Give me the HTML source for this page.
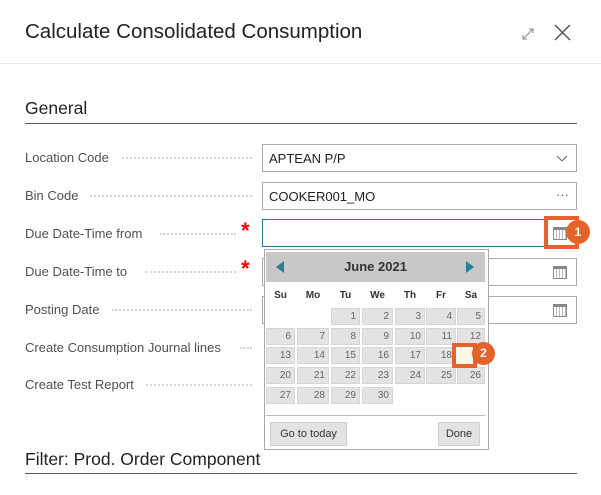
<!DOCTYPE html>
<html><head><meta charset="utf-8"><style>
*{box-sizing:border-box;margin:0;padding:0}
body{width:601px;height:495px;background:#fff;position:relative;overflow:hidden;font-family:"Liberation Sans",sans-serif;color:#212121}
.a{position:absolute}
.lbl{position:absolute;left:25px;font-size:13px;color:#505050;white-space:nowrap}
.dots{position:absolute;height:2px;border-bottom:2px dotted #d4d4d4}
.inp{position:absolute;left:262px;width:315px;height:28px;border:1px solid #a8a8a8;background:#fff;font-size:13px;padding:6px 6px;color:#212121}
.cal{position:absolute;right:9px;top:7px;width:14px;height:13px;border:1px solid #888;border-top:3px solid #888;background:repeating-linear-gradient(90deg,#fff 0 2px,#bbb 2px 3px)}
.cell{position:absolute;height:17px;background:#e3e3e3;border:1px solid #d6d6d6;font-size:10px;color:#666;text-align:right;padding-right:3px;line-height:15px}
.dn{position:absolute;top:290px;font-size:10px;font-weight:bold;color:#333;text-align:center}
.star{position:absolute;left:241px;color:#e00;font-size:22px;font-weight:bold}
</style></head><body>
<div class="a" style="left:25px;top:20px;font-size:20.5px;color:#222">Calculate Consolidated Consumption</div>
<svg class="a" style="left:520px;top:24px" width="60" height="18"><path d="M3 15 L13 5 M9 5 H13 V9 M3 11 V15 H7" stroke="#888" fill="none" stroke-width="1"/><path d="M35 1 L50 16 M50 1 L35 16" stroke="#555" stroke-width="1.5"/></svg>
<div class="a" style="left:0;top:63px;width:601px;height:1px;background:#e8e8e8"></div>
<div class="a" style="left:25px;top:98px;font-size:17.5px;color:#222">General</div>
<div class="a" style="left:25px;top:123px;width:552px;height:1px;background:#555"></div>

<div class="lbl" style="top:150px">Location Code</div><div class="dots" style="left:122px;width:130px;top:157px"></div>
<div class="lbl" style="top:188px">Bin Code</div><div class="dots" style="left:90px;width:162px;top:195px"></div>
<div class="lbl" style="top:226px">Due Date-Time from</div><div class="dots" style="left:160px;width:76px;top:233px"></div>
<div class="lbl" style="top:264px">Due Date-Time to</div><div class="dots" style="left:145px;width:91px;top:271px"></div>
<div class="lbl" style="top:302px">Posting Date</div><div class="dots" style="left:112px;width:140px;top:309px"></div>
<div class="lbl" style="top:340px">Create Consumption Journal lines</div><div class="dots" style="left:240px;width:12px;top:347px"></div>
<div class="lbl" style="top:377px">Create Test Report</div><div class="dots" style="left:146px;width:106px;top:384px"></div>
<div class="star" style="top:218px">*</div><div class="star" style="top:256px">*</div>

<div class="inp" style="top:144px">APTEAN P/P<svg class="a" style="right:8px;top:10px" width="12" height="8"><path d="M1 1 L6 6 L11 1" stroke="#666" fill="none"/></svg></div>
<div class="inp" style="top:182px">COOKER001_MO<span class="a" style="right:7px;top:4px;color:#666">···</span></div>
<div class="inp" style="top:219px;border-color:#2a7f86"><div class="cal"></div></div>
<div class="inp" style="top:258px"><div class="cal"></div></div>
<div class="inp" style="top:296px"><div class="cal"></div></div>

<div class="a" style="left:264px;top:249px;width:225px;height:201px;background:#fff;border:1px solid #a8a8a8"></div>
<div class="a" style="left:266px;top:252px;width:219px;height:30px;background:#c8c8c8"></div>
<div class="a" style="left:276px;top:261px;width:0;height:0;border-top:6px solid transparent;border-bottom:6px solid transparent;border-right:8px solid #2a7f96"></div>
<div class="a" style="left:466px;top:261px;width:0;height:0;border-top:6px solid transparent;border-bottom:6px solid transparent;border-left:8px solid #2a7f96"></div>
<div class="a" style="left:266px;top:259px;width:219px;text-align:center;font-size:13px;font-weight:bold;color:#333">June 2021</div>
<div class="dn" style="left:266px;width:29px">Su</div><div class="dn" style="left:297px;width:32px">Mo</div><div class="dn" style="left:331px;width:29px">Tu</div><div class="dn" style="left:362px;width:31px">We</div><div class="dn" style="left:395px;width:30px">Th</div><div class="dn" style="left:426px;width:30px">Fr</div><div class="dn" style="left:457px;width:28px">Sa</div>
<div id="g"></div>
<div class="a" style="left:266px;top:415px;width:219px;height:1px;background:#bbb"></div>
<div class="a" style="left:270px;top:422px;width:77px;height:24px;background:#e3e3e3;border:1px solid #d0d0d0;font-size:11px;color:#333;text-align:center;line-height:22px">Go to today</div>
<div class="a" style="left:438px;top:422px;width:42px;height:24px;background:#e3e3e3;border:1px solid #d0d0d0;font-size:11px;color:#333;text-align:center;line-height:22px">Done</div>

<div class="a" style="left:544px;top:216px;width:35px;height:33px;border:4px solid #e4632a"></div>
<div class="a" style="left:566px;top:220px;width:24px;height:24px;border-radius:50%;background:#e4632a;color:#fff;font-size:12px;font-weight:bold;text-align:center;line-height:24px">1</div>
<div class="a" style="left:452px;top:343px;width:25px;height:25px;border:4px solid #e4632a;background:#fdf8e8"></div>
<div class="a" style="left:472px;top:342px;width:23px;height:23px;border-radius:50%;background:#e4632a;color:#fff;font-size:12px;font-weight:bold;text-align:center;line-height:23px">2</div>

<div class="a" style="left:25px;top:449px;font-size:17.5px;color:#222">Filter: Prod. Order Component</div>
<div class="a" style="left:25px;top:473px;width:552px;height:1px;background:#555"></div>
<script>
var cx=[266,297,331,362,395,426,457],cw=[29,32,29,31,30,30,28],ry=[308,328,347,367,387],h='';
var d=1;for(var r=0;r<5;r++){for(var c=0;c<7;c++){if(r==0&&c<2)continue;if(d>30)break;if(d!=19)h+='<div class="cell" style="left:'+cx[c]+'px;top:'+ry[r]+'px;width:'+cw[c]+'px">'+d+'</div>';d++;}}
document.getElementById('g').innerHTML=h;
</script>
</body></html>
